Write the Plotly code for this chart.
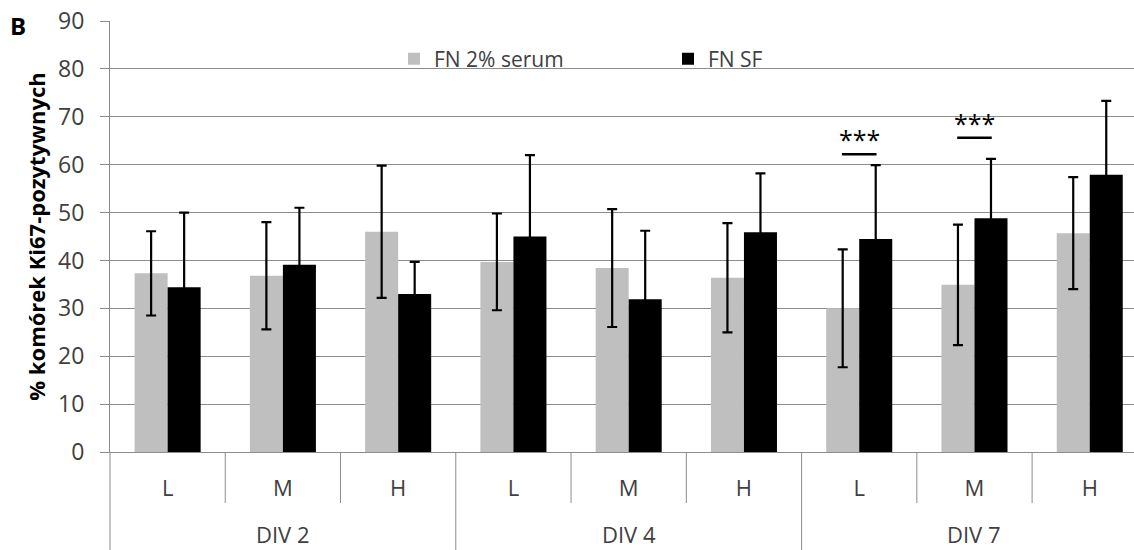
import plotly.graph_objects as go

# Culture day groups and plating density levels
groups = ["DIV 2", "DIV 4", "DIV 7"]
levels = ["L", "M", "H"]

# Percentage of Ki67-positive cells (mean and error), per condition
serum_mean = [37.3, 36.8, 46.0, 39.7, 38.4, 36.4, 30.0, 34.9, 45.7]
serum_err = [8.8, 11.2, 13.8, 10.1, 12.3, 11.4, 12.3, 12.6, 11.7]
sf_mean = [34.4, 39.1, 33.0, 45.0, 31.9, 45.9, 44.5, 48.8, 57.9]
sf_err = [15.6, 11.9, 6.7, 17.0, 14.3, 12.3, 15.4, 12.4, 15.4]

# Significance markers (category index, bracket level, label)
sig_index = [6, 7]
sig_level = [62.2, 65.6]
sig_label = ["***", "***"]

y_ticks = list(range(0, 91, 10))

tick_labels = [lv for _ in groups for lv in levels]
x_pos = list(range(len(tick_labels)))

FONT = "Open Sans, Liberation Sans, DejaVu Sans, sans-serif"
GRID = "#8c8c8c"
TEXT = "#404040"

W, H = 1134, 550
M_L, M_R, M_T, M_B = 110, 0, 21, 98
plot_h = H - M_T - M_B


def py(px):
    """Paper y fraction for a pixel row measured from the top."""
    return (H - M_B - px) / plot_h


fig = go.Figure()
fig.add_trace(go.Bar(
    x=x_pos, y=serum_mean, name="FN 2% serum",
    marker=dict(color="#bfbfbf", line=dict(width=0)),
    error_y=dict(type="data", array=serum_err, color="black", thickness=2.2, width=5),
))
fig.add_trace(go.Bar(
    x=x_pos, y=sf_mean, name="FN SF",
    marker=dict(color="#000000", line=dict(width=0)),
    error_y=dict(type="data", array=sf_err, color="black", thickness=2.2, width=5),
))

shapes = []
# category separators below the axis: short ones between levels, long ones between groups
n = len(tick_labels)
for i in range(n + 1):
    edge = i - 0.5
    long_sep = (i % len(levels) == 0)
    y_end = -0.3 if long_sep else py(503)
    if i == 0:
        shapes.append(dict(type="line", xref="paper", yref="paper", x0=0, x1=0,
                           y0=0, y1=y_end, line=dict(color=GRID, width=1)))
    else:
        shapes.append(dict(type="line", xref="x", yref="paper", x0=edge, x1=edge,
                           y0=0, y1=y_end, line=dict(color=GRID, width=1)))

annotations = []
# group labels
for gi, g in enumerate(groups):
    annotations.append(dict(
        x=gi * len(levels) + (len(levels) - 1) / 2, xref="x",
        y=py(534), yref="paper", text=g, showarrow=False,
        yanchor="middle", font=dict(family=FONT, size=22, color=TEXT),
    ))

# significance brackets
for idx, lvl, lab in zip(sig_index, sig_level, sig_label):
    shapes.append(dict(type="line", xref="x", yref="y",
                       x0=idx - 0.15, x1=idx + 0.15, y0=lvl, y1=lvl,
                       line=dict(color="black", width=2.5)))
    annotations.append(dict(
        x=idx, xref="x", y=lvl, yref="y", text=lab, showarrow=False,
        yanchor="bottom", yshift=-4,
        font=dict(family=FONT, size=25, color="black"),
    ))

# panel letter
annotations.append(dict(
    x=(18 - M_L) / (W - M_L - M_R), xref="paper", y=py(25), yref="paper",
    text="<b>B</b>", showarrow=False, xanchor="center", yanchor="middle",
    font=dict(family=FONT, size=24, color="black"),
))

fig.update_layout(
    width=W, height=H,
    margin=dict(l=M_L, r=M_R, t=M_T, b=M_B, pad=0),
    paper_bgcolor="white", plot_bgcolor="white",
    barmode="group", bargap=0.427, bargroupgap=0,
    font=dict(family=FONT, size=21, color=TEXT),
    showlegend=True,
    legend=dict(
        orientation="h", x=(394 - M_L) / (W - M_L - M_R), xanchor="left",
        y=py(59), yanchor="middle", entrywidth=229, entrywidthmode="pixels",
        bgcolor="rgba(0,0,0,0)", font=dict(family=FONT, size=21, color=TEXT),
        itemclick=False,
    ),
    xaxis=dict(
        tickmode="array", tickvals=x_pos, ticktext=tick_labels,
        range=[-0.5, 8.384], showgrid=False, zeroline=False,
        showline=True, linecolor=GRID, linewidth=1, ticks="",
        ticklabelstandoff=17, tickfont=dict(family=FONT, size=22, color=TEXT),
    ),
    yaxis=dict(
        range=[0, 90], tickmode="array", tickvals=y_ticks,
        showgrid=True, gridcolor=GRID, gridwidth=1, zeroline=False,
        showline=True, linecolor=GRID, linewidth=1,
        ticks="outside", ticklen=9, tickcolor=GRID, tickwidth=1,
        ticklabelstandoff=11, tickfont=dict(family=FONT, size=23, color=TEXT),
        title=dict(text="<b>% komórek Ki67-pozytywnych</b>", standoff=6,
                   font=dict(family=FONT, size=22, color="black")),
    ),
    shapes=shapes, annotations=annotations,
)

fig.write_html("out.html")
